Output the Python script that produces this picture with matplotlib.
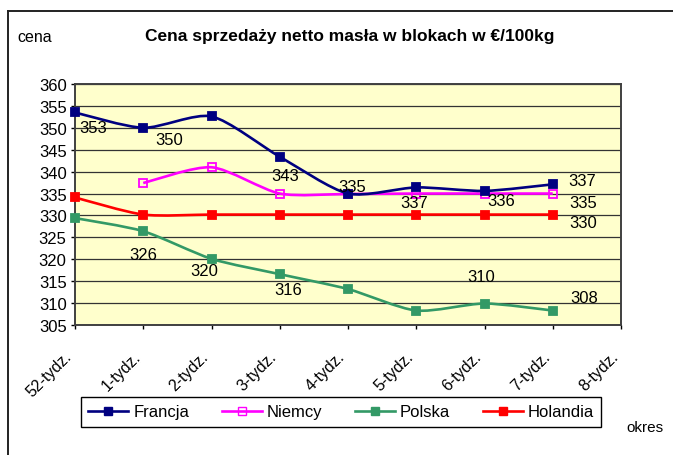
import matplotlib
matplotlib.use("Agg")
import matplotlib.pyplot as plt
import numpy as np
from matplotlib.path import Path
from matplotlib.patches import PathPatch
from matplotlib.lines import Line2D

plt.rcParams["font.family"] = ["Liberation Sans", "DejaVu Sans"]

nan = float("nan")

weeks = ["52-tydz.", "1-tydz.", "2-tydz.", "3-tydz.", "4-tydz.",
         "5-tydz.", "6-tydz.", "7-tydz.", "8-tydz."]

francja  = [353.5, 350.0, 352.6, 343.4, 335.0, 336.4, 335.6, 337.1, nan]
niemcy   = [nan, 337.4, 341.0, 335.0, 334.9, 335.0, 335.0, 335.0, nan]
polska   = [329.4, 326.4, 320.1, 316.6, 313.2, 308.3, 309.9, 308.3, nan]
holandia = [334.1, 330.2, 330.2, 330.2, 330.2, 330.2, 330.2, 330.2, nan]

# point labels as printed on the chart
fr_lab = ["353", "350", None, "343", "335", None, None, "337", None]
ni_lab = [None, None, None, None, None, "337", "336", "335", None]
pl_lab = [None, "326", "320", "316", None, None, "310", "308", None]
ho_lab = [None, None, None, None, None, None, None, "330", None]

# label offsets from the point (pixels)
fr_off = {0: (18, -15), 1: (26, -12), 3: (5, -19), 4: (4, 7), 7: (29, 4)}
ni_off = {5: (-2, -9), 6: (17, -7), 7: (30, -9)}
pl_off = {1: (0, -23), 2: (-7, -12), 3: (8, -15), 6: (-3, 27), 7: (31, 13)}
ho_off = {7: (30, -8)}

C = dict(fr="#000080", ni="#ff00ff", pl="#339966", ho="#ff0000")


def smooth_path(xs, ys, k=6.0):
    # Excel-like smoothed line: cubic Bezier through the points
    pts = [(a, b) for a, b in zip(xs, ys) if b == b]
    P = np.array(pts, dtype=float)
    n = len(P)
    verts = [P[0]]
    codes = [Path.MOVETO]
    for i in range(n - 1):
        p0 = P[i - 1] if i > 0 else P[i]
        p1, p2 = P[i], P[i + 1]
        p3 = P[i + 2] if i + 2 < n else P[i + 1]
        c1 = p1 + (p2 - p0) / k
        c2 = p2 - (p3 - p1) / k
        verts += [c1, c2, p2]
        codes += [Path.CURVE4] * 3
    return Path(verts, codes)


fig = plt.figure(figsize=(6.73, 4.56), dpi=100)
W, H = 673, 456
ax = fig.add_axes([75 / W, 1 - 326 / H, 546 / W, 241 / H])
ax.set_facecolor("#ffffcc")

x = np.arange(len(weeks))
series = [
    ("Niemcy", niemcy, C["ni"], "none", ni_lab, ni_off),
    ("Polska", polska, C["pl"], C["pl"], pl_lab, pl_off),
    ("Holandia", holandia, C["ho"], C["ho"], ho_lab, ho_off),
    ("Francja", francja, C["fr"], C["fr"], fr_lab, fr_off),
]
for z, (name, ys, col, mfc, labs, offs) in enumerate(series):
    ax.add_patch(PathPatch(smooth_path(x, ys, 8.0), fill=False, ec=col, lw=1.9,
                           zorder=3 + z, clip_on=False))
    ax.plot(x, ys, ls="none", marker="s", ms=6, mfc=mfc, mec=col, mew=1.3,
            zorder=3.5 + z, clip_on=False)
    for i, t in enumerate(labs):
        if t is None:
            continue
        dx, dy = offs[i]
        ax.annotate(t, (x[i], ys[i]), xytext=(dx, dy), textcoords="offset pixels",
                    ha="center", va="center", fontsize=12, color="black", zorder=10)

ax.set_xlim(0, 8)
ax.set_ylim(305, 360)
ax.set_yticks(np.arange(305, 361, 5))
ax.set_xticks(x)
ax.set_xticklabels(weeks, rotation=45, ha="right", va="top", fontsize=11.5)
ax.tick_params(axis="x", direction="out", length=3, width=1, pad=14)
ax.tick_params(axis="y", direction="out", length=3, width=1, pad=3, labelsize=12)
ax.grid(axis="y", color="#333333", lw=0.9)
ax.set_axisbelow(True)
for s in ax.spines.values():
    s.set_color("#404040")
    s.set_linewidth(1.4)

fig.text(350 / W, 1 - 37 / H, "Cena sprzedaży netto masła w blokach w €/100kg",
         ha="center", va="center", fontsize=12.5, fontweight="bold")
fig.text(17 / W, 1 - 38 / H, "cena", ha="left", va="center", fontsize=11.5)
fig.text(626 / W, 1 - 428 / H, "okres", ha="left", va="center", fontsize=11)

handles = [
    Line2D([], [], color=C["fr"], lw=1.9, marker="s", ms=6, mfc=C["fr"], mec=C["fr"]),
    Line2D([], [], color=C["ni"], lw=1.9, marker="s", ms=6, mfc="none", mec=C["ni"]),
    Line2D([], [], color=C["pl"], lw=1.9, marker="s", ms=6, mfc=C["pl"], mec=C["pl"]),
    Line2D([], [], color=C["ho"], lw=1.9, marker="s", ms=6, mfc=C["ho"], mec=C["ho"]),
]
leg = fig.legend(handles, ["Francja", "Niemcy", "Polska", "Holandia"], ncol=4,
                 loc="center", bbox_to_anchor=(341 / W, 1 - 413 / H), fontsize=12,
                 frameon=True, fancybox=False, edgecolor="black", framealpha=1,
                 handlelength=2.4, handletextpad=0.3, columnspacing=1.95,
                 borderpad=0.45)
leg.get_frame().set_linewidth(1.0)

# outer chart frame
fig.add_artist(Line2D([8 / W, 1], [1 - 12 / H, 1 - 12 / H], color="#222222", lw=1.4,
                      transform=fig.transFigure))
fig.add_artist(Line2D([8 / W, 8 / W], [0, 1 - 12 / H], color="#222222", lw=1.4,
                      transform=fig.transFigure))

fig.savefig("out.png", dpi=100)
